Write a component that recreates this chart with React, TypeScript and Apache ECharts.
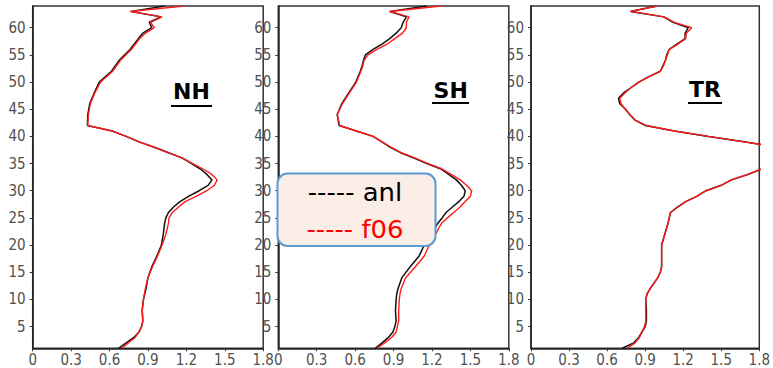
import React, { useEffect, useRef } from "react";
import * as echarts from "echarts";

// ---- Data ----
const PANELS = ["NH", "SH", "TR"];
const X_TICKS = [0, 0.3, 0.6, 0.9, 1.2, 1.5, 1.8];
const Y_TICKS = [5, 10, 15, 20, 25, 30, 35, 40, 45, 50, 55, 60];

const NH_LEVELS = [64, 63, 62, 61, 60, 59, 58, 56, 54, 52, 50, 48, 46, 44, 42, 41, 40, 39, 38, 37, 36, 35, 34, 33, 32, 31, 30, 29, 28, 27, 26, 25, 24, 22, 20, 18, 16, 14, 12, 10, 8, 6, 5, 4, 3, 2, 1];
const NH_ANL = [1.03, 0.77, 1.0, 0.91, 0.93, 0.86, 0.825, 0.76, 0.675, 0.615, 0.52, 0.48, 0.445, 0.43, 0.427, 0.62, 0.73, 0.83, 0.95, 1.06, 1.17, 1.24, 1.31, 1.36, 1.4, 1.37, 1.3, 1.22, 1.15, 1.1, 1.06, 1.04, 1.03, 1.02, 1.005, 0.97, 0.93, 0.9, 0.885, 0.865, 0.855, 0.86, 0.85, 0.83, 0.79, 0.73, 0.67];
const NH_F06 = [1.18, 0.76, 1.01, 0.92, 0.95, 0.88, 0.835, 0.77, 0.685, 0.625, 0.53, 0.485, 0.45, 0.435, 0.43, 0.62, 0.73, 0.83, 0.95, 1.06, 1.17, 1.25, 1.33, 1.4, 1.44, 1.42, 1.36, 1.28, 1.19, 1.14, 1.09, 1.065, 1.06, 1.04, 1.01, 0.975, 0.935, 0.9, 0.88, 0.865, 0.855, 0.86, 0.85, 0.83, 0.8, 0.745, 0.695];

const SH_LEVELS = [64, 63, 62, 61, 60, 59, 58, 57, 56, 55, 54, 53, 52, 50, 48, 46, 44, 42, 41, 40, 39, 38, 37, 36, 35, 34, 33, 32, 31, 30, 29, 28, 27, 26, 25, 24, 23, 22, 21, 20, 18, 16, 14, 12, 11, 10, 8, 6, 5, 4, 3, 2, 1];
const SH_ANL = [1.16, 0.87, 1.0, 0.975, 0.96, 0.92, 0.87, 0.81, 0.74, 0.68, 0.665, 0.655, 0.64, 0.605, 0.55, 0.495, 0.46, 0.475, 0.61, 0.74, 0.81, 0.875, 0.955, 1.06, 1.16, 1.27, 1.33, 1.39, 1.43, 1.46, 1.45, 1.41, 1.36, 1.31, 1.28, 1.245, 1.22, 1.2, 1.165, 1.14, 1.1, 1.03, 0.965, 0.935, 0.925, 0.92, 0.915, 0.92, 0.91, 0.895, 0.86, 0.81, 0.757];
const SH_F06 = [1.27, 0.87, 1.02, 1.0, 1.0, 0.97, 0.91, 0.85, 0.77, 0.7, 0.67, 0.66, 0.645, 0.61, 0.555, 0.5, 0.46, 0.48, 0.61, 0.74, 0.81, 0.88, 0.96, 1.07, 1.17, 1.28, 1.35, 1.42, 1.47, 1.51, 1.5, 1.46, 1.42, 1.37, 1.32, 1.275, 1.25, 1.23, 1.2, 1.18, 1.14, 1.07, 0.995, 0.96, 0.95, 0.945, 0.94, 0.94, 0.93, 0.92, 0.885, 0.83, 0.77];

const TR_LEVELS = [64, 63, 62, 61, 60, 59, 58, 57, 56, 55, 54, 53, 52, 51, 50, 49, 48, 47, 46, 45, 44, 43, 42, 41, 40, 39, 38, 37, 36, 35, 34, 33, 32, 31, 30, 29, 28, 27, 26, 25, 24, 22, 20, 18, 16, 15, 14, 13, 12, 11, 10, 8, 6, 5, 4, 3, 2, 1];
const TR_ANL = [0.99, 0.785, 1.046, 1.12, 1.24, 1.215, 1.215, 1.15, 1.09, 1.07, 1.06, 1.04, 1.02, 0.93, 0.85, 0.79, 0.73, 0.69, 0.7, 0.745, 0.78, 0.82, 0.903, 1.13, 1.4, 1.68, 1.95, 2.15, 2.2, 2.05, 1.82, 1.71, 1.58, 1.5, 1.38, 1.31, 1.22, 1.155, 1.1, 1.09, 1.08, 1.055, 1.03, 1.03, 1.03, 1.02, 1.0, 0.97, 0.94, 0.915, 0.905, 0.91, 0.91, 0.9, 0.875, 0.85, 0.81, 0.72];
const TR_F06 = [1.0, 0.785, 1.05, 1.13, 1.267, 1.225, 1.22, 1.16, 1.09, 1.075, 1.06, 1.045, 1.02, 0.93, 0.85, 0.79, 0.74, 0.7, 0.71, 0.745, 0.78, 0.82, 0.91, 1.13, 1.4, 1.68, 1.95, 2.15, 2.2, 2.05, 1.82, 1.71, 1.58, 1.5, 1.38, 1.31, 1.22, 1.16, 1.1, 1.09, 1.08, 1.055, 1.03, 1.03, 1.03, 1.02, 1.0, 0.97, 0.94, 0.915, 0.905, 0.905, 0.905, 0.895, 0.875, 0.855, 0.82, 0.76];

const LEGEND_NAMES = ["anl", "f06"];

const LEVELS = [NH_LEVELS, SH_LEVELS, TR_LEVELS];
const ANL = [NH_ANL, SH_ANL, TR_ANL];
const F06 = [NH_F06, SH_F06, TR_F06];

// ---- Layout ----
const GRID_LEFTS = [32.7, 278.3, 531];
const GRID_W = 230.5;
const GRID_TOP = 6;
const GRID_H = 342.3;
const TITLE_POS = [
  { x: 191.5, y: 91.5, ux1: 171, ux2: 212, uy: 106 },
  { x: 450.7, y: 90, ux1: 432, ux2: 469, uy: 103 },
  { x: 705, y: 89, ux1: 688, ux2: 722, uy: 103 },
];

const LABEL_FONT = "'Liberation Sans Narrow', 'DejaVu Sans Condensed', 'Liberation Sans', sans-serif";

export default function App() {
  const ref = useRef<HTMLDivElement>(null);

  useEffect(() => {
    if (!ref.current) return;
    const chart = echarts.init(ref.current, undefined, { renderer: "svg" });

    const grids = GRID_LEFTS.map((l) => ({
      left: l,
      top: GRID_TOP,
      width: GRID_W,
      height: GRID_H,
      show: true,
      borderColor: "#333",
      borderWidth: 1.5,
      backgroundColor: "transparent",
    }));

    const xAxes = GRID_LEFTS.map((_, i) => ({
      type: "value",
      gridIndex: i,
      min: X_TICKS[0],
      max: X_TICKS[X_TICKS.length - 1],
      interval: 0.3,
      axisLine: { show: true, lineStyle: { color: "#222", width: 1.5 } },
      axisTick: { show: true, inside: false, length: 3, lineStyle: { color: "#333" } },
      splitLine: { show: false },
      axisLabel: {
        margin: 4,
        color: "#505050",
        fontSize: 15,
        fontFamily: LABEL_FONT,
        formatter: (v: number) => String(Math.round(v * 10) / 10),
      },
    }));

    const yAxes = GRID_LEFTS.map((_, i) => ({
      type: "value",
      gridIndex: i,
      min: 1,
      max: 64,
      axisLine: { show: true, lineStyle: { color: "#222", width: 1.5 } },
      axisTick: { show: true, inside: false, length: 3, customValues: Y_TICKS, lineStyle: { color: "#333" } },
      splitLine: { show: false },
      axisLabel: {
        margin: 7,
        color: "#505050",
        fontSize: 15,
        fontFamily: LABEL_FONT,
        customValues: Y_TICKS,
      },
    }));

    const series: any[] = [];
    PANELS.forEach((_, i) => {
      series.push({
        name: LEGEND_NAMES[0],
        type: "line",
        xAxisIndex: i,
        yAxisIndex: i,
        symbol: "none",
        clip: true,
        lineStyle: { color: "#111", width: 1.5 },
        data: LEVELS[i].map((lv, k) => [ANL[i][k], lv]),
        z: 2,
      });
      series.push({
        name: LEGEND_NAMES[1],
        type: "line",
        xAxisIndex: i,
        yAxisIndex: i,
        symbol: "none",
        clip: true,
        lineStyle: { color: "#ff1a1a", width: 1.4 },
        data: LEVELS[i].map((lv, k) => [F06[i][k], lv]),
        z: 3,
      });
    });

    const graphic: any[] = [];
    PANELS.forEach((name, i) => {
      const p = TITLE_POS[i];
      graphic.push({
        type: "text",
        x: p.x,
        y: p.y,
        z: 10,
        style: {
          text: name,
          fill: "#000",
          fontSize: 22,
          fontWeight: "bold",
          fontFamily: "'DejaVu Sans', sans-serif",
          align: "center",
          verticalAlign: "middle",
        },
      });
      graphic.push({
        type: "line",
        z: 10,
        shape: { x1: p.ux1, y1: p.uy, x2: p.ux2, y2: p.uy },
        style: { stroke: "#000", lineWidth: 2 },
      });
    });
    graphic.push({
      type: "rect",
      z: 20,
      shape: { x: 277.5, y: 173.5, width: 158, height: 72.5, r: 10 },
      style: { fill: "#FAEEE6", stroke: "#5B9BD5", lineWidth: 2 },
    });
    graphic.push({
      type: "text",
      z: 21,
      x: 355,
      y: 193,
      scaleX: 1.08,
      style: {
        text: "----- " + LEGEND_NAMES[0],
        fill: "#000",
        fontSize: 24,
        fontFamily: "'DejaVu Sans', sans-serif",
        align: "center",
        verticalAlign: "middle",
      },
    });
    graphic.push({
      type: "text",
      z: 21,
      x: 355,
      y: 230,
      scaleX: 1.08,
      style: {
        text: "----- " + LEGEND_NAMES[1],
        fill: "#ff0000",
        fontSize: 24,
        fontFamily: "'DejaVu Sans', sans-serif",
        align: "center",
        verticalAlign: "middle",
      },
    });

    chart.setOption({
      animation: false,
      backgroundColor: "#fff",
      grid: grids,
      xAxis: xAxes,
      yAxis: yAxes,
      series,
      graphic,
    });

    return () => chart.dispose();
  }, []);

  return (
    <div
      ref={ref}
      style={{ position: "fixed", left: 0, top: 0, width: 773, height: 368, background: "#fff" }}
    />
  );
}
